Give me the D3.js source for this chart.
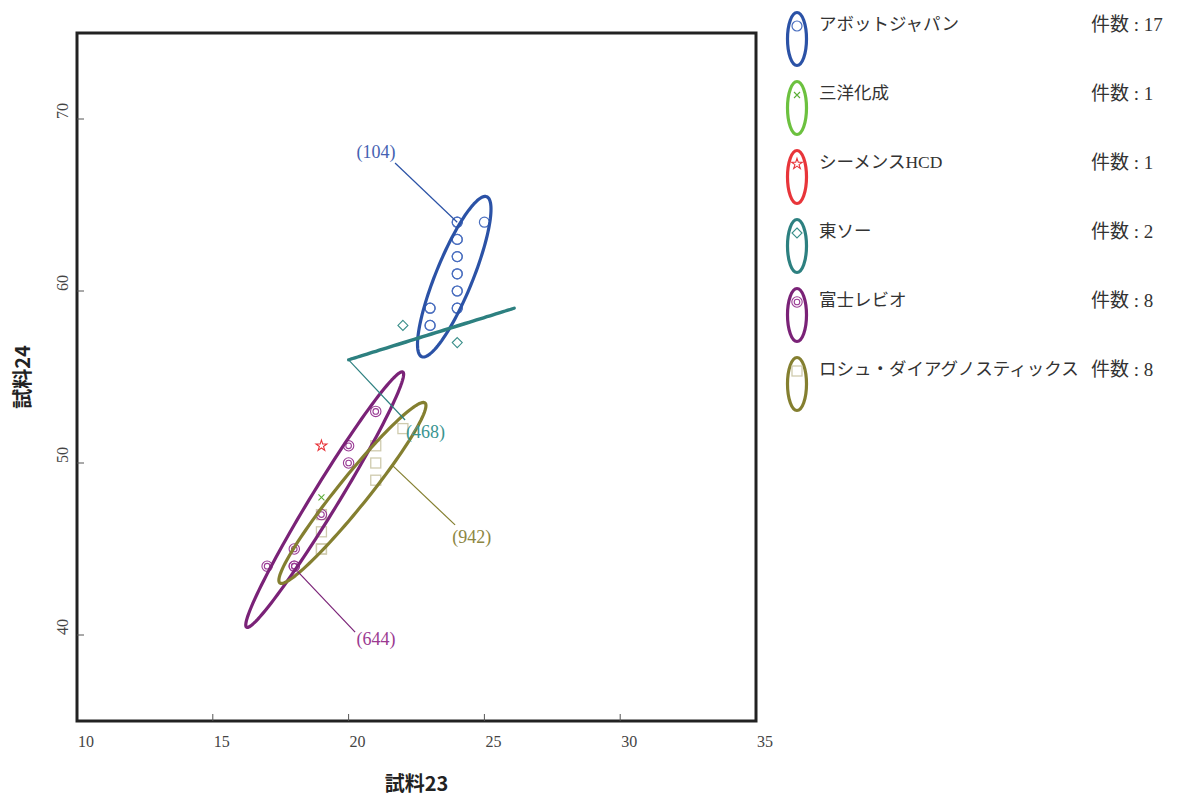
<!DOCTYPE html>
<html><head><meta charset="utf-8">
<script src="https://cdn.jsdelivr.net/npm/d3@7"></script>
<style>
body{margin:0;background:#fff;}
svg{display:block;}
</style></head>
<body>
<svg id="chart" width="1184" height="798"></svg>
<script>
// ---------- data ----------
const groups = ["アボットジャパン","三洋化成","シーメンスHCD","東ソー","富士レビオ","ロシュ・ダイアグノスティックス"];
const counts = [17,1,1,2,8,8];
const colors = ["#2b52a6","#6cc13f","#e8353a","#2d8080","#7a2277","#847f30"];
const markerColors = ["#4b6fbf","#5cae38","#e8353a","#3a8f8a","#9a3c95","#cfcbae"];
const markers = ["circle","x","star","diamond","double","square"];

const abbottX = [24,24,25,24,24,24,24,24,24,24,24,24,24,23,23,23,23];
const abbottY = [64,64,64,63,63,62,62,61,61,60,60,59,59,59,59,58,58];
const sanyoX = [19];
const sanyoY = [48];
const siemensX = [19];
const siemensY = [51];
const tosohX = [22,24];
const tosohY = [58,57];
const fujiX = [21,20,20,19,18,17,18,18];
const fujiY = [53,51,50,47,45,44,44,44];
const rocheX = [22,21,21,21,19,19,19,19];
const rocheY = [52,51,50,49,47,46,45,45];
const pointX = [abbottX,sanyoX,siemensX,tosohX,fujiX,rocheX];
const pointY = [abbottY,sanyoY,siemensY,tosohY,fujiY,rocheY];

// confidence ellipses (data units): centre, major half-axis vector, minor half-axis vector
const ellGroup  = [0,3,4,5];
const ellCX     = [23.89,23.05,19.12,20.14];
const ellCY     = [60.83,57.50,47.87,48.26];
const ellMajX   = [1.197,3.05,2.877,2.673];
const ellMajY   = [4.651,1.50,7.422,5.233];
const ellMinX   = [0.631,0.004,0.415,0.433];
const ellMinY   = [-0.405,-0.008,-0.401,-0.551];

// annotated samples
const annText  = ["(104)","(468)","(942)","(644)"];
const annGroup = [0,3,5,4];
const annFromX = [24.0,20.0,21.63,18.12];
const annFromY = [64.0,56.0,49.83,43.7];
const annToX   = [21.71,22.08,23.92,20.24];
const annToY   = [67.44,52.5,46.4,40.17];
const annLabX  = [21.01,22.11,23.82,21.01];
const annLabY  = [68.1,51.8,45.7,39.8];

const xTicks = [10,15,20,25,30,35];
const yTicks = [40,50,60,70];
const xTitle = "試料23";
const yTitle = "試料24";

// ---------- layout ----------
const svg = d3.select("#chart");
const L = 77, R = 756, T = 33, B = 721;
const x = d3.scaleLinear().domain([10,35]).range([L,R]);
const y = d3.scaleLinear().domain([35,75]).range([B,T]);
const numFont = "'Liberation Serif','DejaVu Serif','Noto Sans CJK JP',serif";
const jpFont = "'Liberation Serif','Noto Sans CJK JP',serif";

// frame
svg.append("rect").attr("x",L).attr("y",T).attr("width",R-L).attr("height",B-T)
  .attr("fill","none").attr("stroke","#222").attr("stroke-width",3);

// ticks
svg.selectAll(".xt").data(xTicks.filter(d=>d>10&&d<35)).enter().append("line")
  .attr("x1",d=>x(d)).attr("x2",d=>x(d)).attr("y1",B).attr("y2",B-7)
  .attr("stroke","#555").attr("stroke-width",1);
svg.selectAll(".yt").data(yTicks).enter().append("line")
  .attr("x1",L).attr("x2",L+7).attr("y1",d=>y(d)).attr("y2",d=>y(d))
  .attr("stroke","#555").attr("stroke-width",1);
svg.selectAll(".xl").data(xTicks).enter().append("text")
  .attr("x",d=>x(d)+1).attr("y",B+26).attr("font-family",numFont).attr("font-size",16)
  .attr("fill","#444").text(d=>d);
svg.selectAll(".yl").data(yTicks).enter().append("text")
  .attr("transform",d=>`translate(${L-9},${y(d)}) rotate(-90)`)
  .attr("font-family",numFont).attr("font-size",16).attr("fill","#444").text(d=>d);

// axis titles
svg.append("text").attr("x",(L+R)/2+0).attr("y",791).attr("text-anchor","middle")
  .attr("font-family","'Noto Sans CJK JP',sans-serif").attr("font-weight",700)
  .attr("font-size",20).attr("fill","#222").text(xTitle);
svg.append("text").attr("transform",`translate(30,${(T+B)/2}) rotate(-90)`).attr("text-anchor","middle")
  .attr("font-family","'Noto Sans CJK JP',sans-serif").attr("font-weight",700)
  .attr("font-size",20).attr("fill","#222").text(yTitle);

// marker drawer
function drawMarker(g, type, cx, cy, col){
  if(type==="circle"){
    g.append("circle").attr("cx",cx).attr("cy",cy).attr("r",5).attr("fill","none").attr("stroke",col).attr("stroke-width",1.2);
  } else if(type==="double"){
    g.append("circle").attr("cx",cx).attr("cy",cy).attr("r",5.2).attr("fill","none").attr("stroke",col).attr("stroke-width",1.1);
    g.append("circle").attr("cx",cx).attr("cy",cy).attr("r",2.8).attr("fill","none").attr("stroke",col).attr("stroke-width",1.1);
  } else if(type==="square"){
    g.append("rect").attr("x",cx-5).attr("y",cy-5).attr("width",10).attr("height",10).attr("fill","none").attr("stroke",col).attr("stroke-width",1.3);
  } else if(type==="diamond"){
    g.append("path").attr("d",`M${cx},${cy-5}L${cx+5},${cy}L${cx},${cy+5}L${cx-5},${cy}Z`).attr("fill","none").attr("stroke",col).attr("stroke-width",1.1);
  } else if(type==="star"){
    g.append("path").attr("transform",`translate(${cx},${cy})`).attr("d",d3.symbol(d3.symbolStar,36)())
      .attr("fill","none").attr("stroke",col).attr("stroke-width",1.1);
  } else if(type==="x"){
    g.append("path").attr("d",`M${cx-3},${cy-3}L${cx+3},${cy+3}M${cx-3},${cy+3}L${cx+3},${cy-3}`).attr("stroke",col).attr("stroke-width",1.1);
  }
}

// points
const pg = svg.append("g");
[5,1,2,3,0,4].forEach(gi=>{
  pointX[gi].forEach((vx,i)=>drawMarker(pg, markers[gi], x(vx), y(pointY[gi][i]), markerColors[gi]));
});

// ellipses
const ts = d3.range(0,361,3).map(d=>d*Math.PI/180);
const eline = d3.line().x(d=>d[0]).y(d=>d[1]);
ellGroup.forEach((gi,k)=>{
  const pts = ts.map(t=>[
    x(ellCX[k]+Math.cos(t)*ellMajX[k]+Math.sin(t)*ellMinX[k]),
    y(ellCY[k]+Math.cos(t)*ellMajY[k]+Math.sin(t)*ellMinY[k])]);
  svg.append("path").attr("d",eline(pts)+"Z").attr("fill","none")
    .attr("stroke",colors[gi]).attr("stroke-width",3.2).attr("stroke-linejoin","round");
});

// annotations
const labColors = ["#4562b2","#3a9490","#8c8642","#9b3a91"];
annText.forEach((t,i)=>{
  const gi = annGroup[i];
  svg.append("line").attr("x1",x(annFromX[i])).attr("y1",y(annFromY[i]))
    .attr("x2",x(annToX[i])).attr("y2",y(annToY[i]))
    .attr("stroke",colors[gi]).attr("stroke-width",1.2);
  svg.append("text").attr("x",x(annLabX[i])).attr("y",y(annLabY[i])).attr("dy","0.35em")
    .attr("text-anchor", i===0||i===3 ? "middle" : "start")
    .attr("font-family",numFont).attr("font-size",18).attr("fill",labColors[i]).text(t);
});

// legend
const lg = svg.append("g");
groups.forEach((name,i)=>{
  const cy = 39 + i*69;
  lg.append("ellipse").attr("cx",797).attr("cy",cy).attr("rx",9.5).attr("ry",26.5)
    .attr("fill","none").attr("stroke",colors[i]).attr("stroke-width",3.2);
  drawMarker(lg, markers[i], 797, cy-13, markerColors[i]);
  lg.append("text").attr("x",819).attr("y",cy-15).attr("dy","0.35em")
    .attr("font-family",jpFont).attr("font-size",17.5).attr("fill","#333").text(name);
  lg.append("text").attr("x",1091).attr("y",cy-15).attr("dy","0.35em")
    .attr("font-family",jpFont).attr("font-size",19).attr("fill","#333").text("件数\u00a0:\u00a0"+counts[i]);
});
</script>
</body></html>
